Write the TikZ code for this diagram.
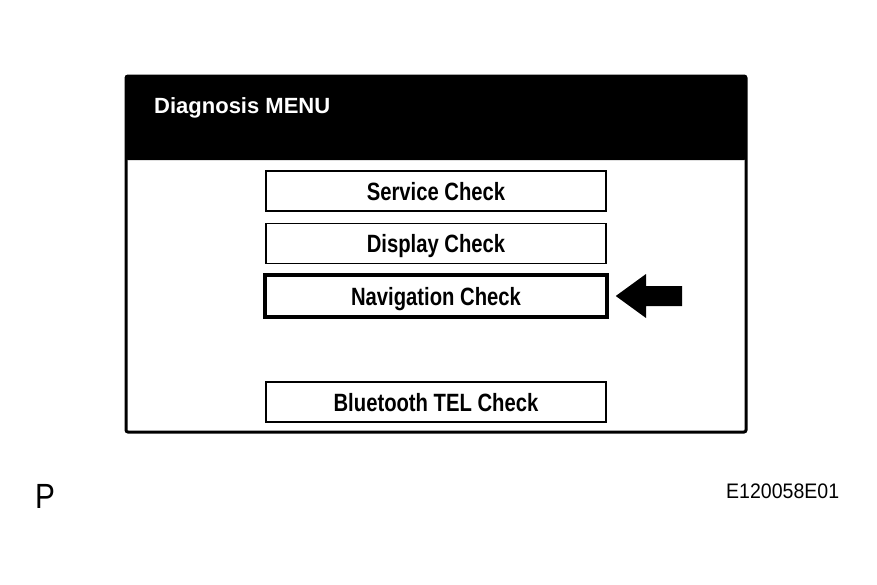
\documentclass[tikz,border=0pt]{standalone}
\usepackage{fontspec}
\setmainfont{Liberation Sans}
\newfontfamily\btnfont[FakeStretch=0.81]{Liberation Sans}
\newfontfamily\pfont[FakeStretch=0.85]{Liberation Sans}
\newfontfamily\codefont[FakeStretch=0.93]{Liberation Sans}
\begin{document}
\begin{tikzpicture}[x=1pt,y=-1pt,
  menubtn/.style={draw=black,line width=1.8pt,fill=white,minimum width=340pt,minimum height=40pt,inner sep=0pt,
    text height=18pt,text depth=0pt,
    font=\btnfont\bfseries\fontsize{25}{28}\selectfont},
  selbtn/.style={menubtn,line width=3.5pt,minimum width=342pt,minimum height=42pt},
  lbl/.style={inner sep=0pt,anchor=base west}]
\useasboundingbox (0,0) rectangle (877,584);
% outer frame and header
\fill[black,rounded corners=2pt] (126,76) rectangle (746,160);
\draw[line width=3pt,rounded corners=2pt] (126,76) rectangle (746,432);
\node[lbl,text=white,font=\bfseries\fontsize{22}{24}\selectfont] (title) at (154,113) {Diagnosis MENU};
% buttons
\node[menubtn] (svc) at (436,191) {Service Check};
\node[menubtn] (disp) at (436,243.5) {Display Check};
\node[selbtn] (nav) at (436,296) {Navigation Check};
\node[menubtn] (bt) at (436,402) {Bluetooth TEL Check};
% pointer arrow
\fill[black] ([xshift=7pt]nav.east) -- (646,274) -- (646,286) -- (682,286) -- (682,306) -- (646,306) -- (646,318) -- cycle;
% labels
\node[lbl,font=\pfont\fontsize{35}{36}\selectfont] (p) at (35,508) {P};
\node[lbl,font=\codefont\fontsize{21}{24}\selectfont] (code) at (726,498) {E120058E01};
\end{tikzpicture}
\end{document}
